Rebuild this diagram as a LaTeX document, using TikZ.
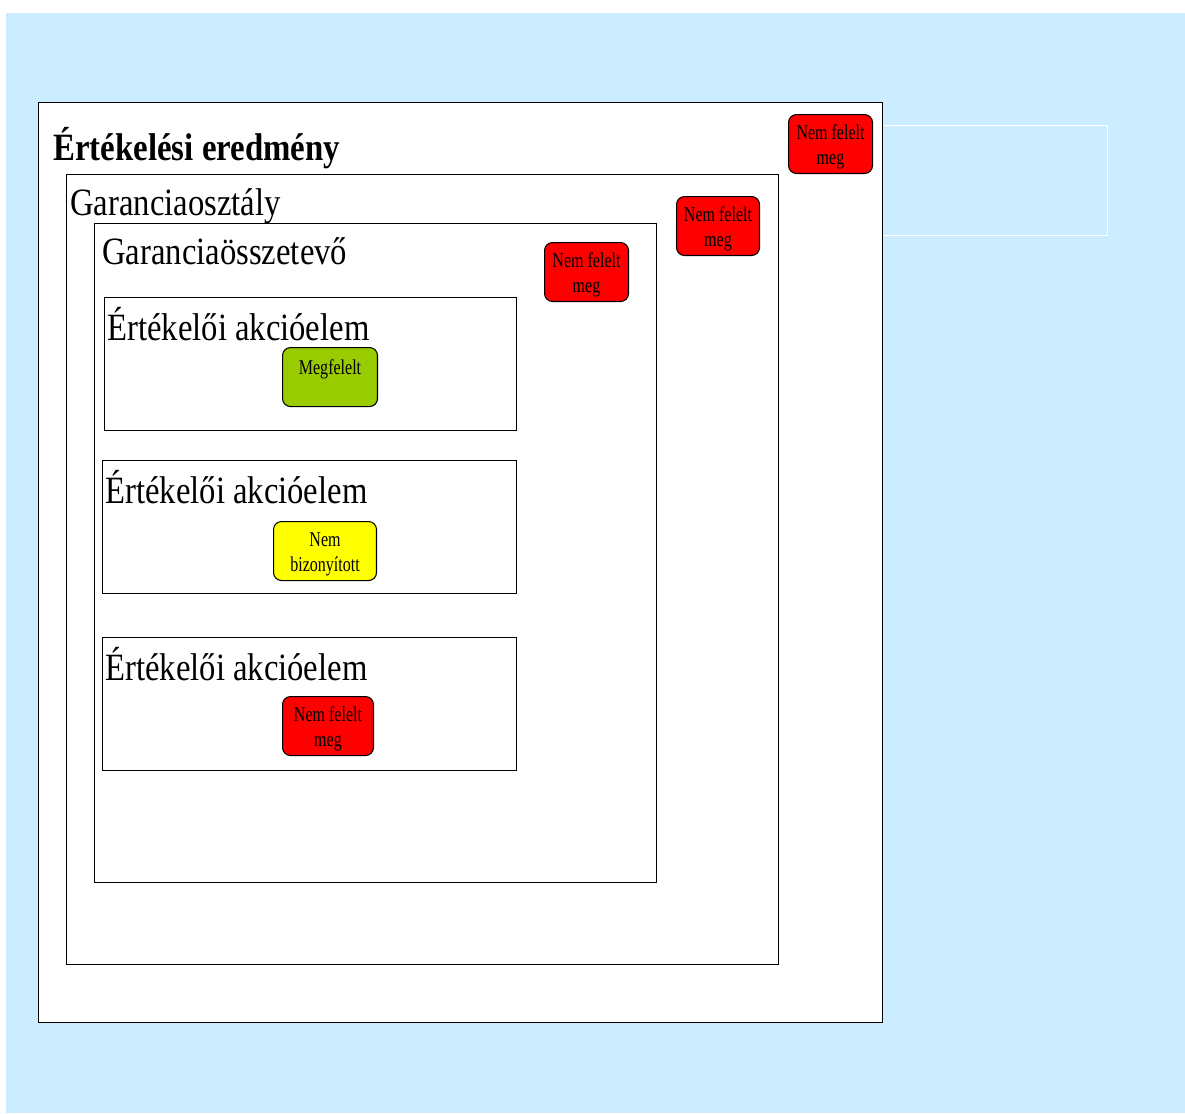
\documentclass[tikz,border=0pt]{standalone}
\usepackage{fontspec}
\setmainfont{Liberation Serif}
\newfontfamily\headfont[FakeStretch=0.845]{Liberation Serif}
\newfontfamily\titlefont[FakeStretch=0.85]{Liberation Serif}
\newfontfamily\statefont[FakeStretch=0.76]{Liberation Serif}
\usetikzlibrary{positioning}
\definecolor{Sky}{HTML}{CCECFF}
\definecolor{Pass}{HTML}{99CC00}
\definecolor{Fail}{HTML}{FF0000}
\definecolor{Open}{HTML}{FFFF00}
\newcommand{\topgap}{\rule{0pt}{11.7pt}}

\begin{document}
\begin{tikzpicture}[
  x=0.02cm,y=-0.02cm,
  panel/.style={draw=black,fill=white,line width=0.6pt,anchor=north west,
    inner sep=0pt},
  heading/.style={anchor=base west,inner sep=0pt,
    font=\headfont\fontsize{22}{26}\selectfont},
  state/.style={draw=black,rounded corners=1.6mm,line width=0.6pt,
    anchor=north west,minimum height=11.8mm,inner sep=0pt,align=center,
    font=\statefont\fontsize{12}{14.2}\selectfont},
  failed/.style={state,fill=Fail,minimum width=16.8mm}
]
\useasboundingbox (0,0) rectangle (1185,1113);
\fill[white] (0,0) rectangle (1185,1113);
\fill[Sky] (6,13) rectangle (1185,1113);

% Empty frame beside the result.
\node[draw=white,line width=0.6pt,anchor=north west,inner sep=0pt,
  minimum width=45mm,minimum height=22mm] (ghost) at (882,125) {};

% Nested panels.
\node[panel,minimum width=168.8mm,minimum height=184mm] (result) at (38,102) {};
\node[heading,font=\titlefont\bfseries\fontsize{22}{26}\selectfont]
  (resulttitle) at (53,160) {Értékelési eredmény};
\node[failed] (resultstate) at (788,114) {\topgap Nem felelt\\meg};

\node[panel,minimum width=142.4mm,minimum height=158mm] (class) at (66,174) {};
\node[heading] (classtitle) at (70,215) {Garanciaosztály};
\node[failed,minimum width=16.6mm] (classstate) at (676,196) {\topgap Nem felelt\\meg};

\node[panel,minimum width=112.4mm,minimum height=131.8mm] (comp) at (94,223) {};
\node[heading] (comptitle) at (102,264) {Garanciaösszetevő};
\node[failed] (compstate) at (544,242) {\topgap Nem felelt\\meg};

% Action elements.
\node[panel,minimum width=82.4mm,minimum height=26.6mm] (act1) at (104,297) {};
\node[heading] (act1title) at (107,340) {Értékelői akcióelem};
\node[state,fill=Pass,minimum width=19mm] (act1state) at (282,347) {\topgap Megfelelt\\~};

\node[panel,minimum width=82.8mm,minimum height=26.6mm] (act2) at (102,460) {};
\node[heading] (act2title) at (105,503) {Értékelői akcióelem};
\node[state,fill=Open,minimum width=20.6mm] (act2state) at (273,521) {\topgap Nem\\bizonyított};

\node[panel,minimum width=82.8mm,minimum height=26.6mm] (act3) at (102,637) {};
\node[heading] (act3title) at (105,680) {Értékelői akcióelem};
\node[failed,minimum width=18.2mm] (act3state) at (282,696) {\topgap Nem felelt\\meg};
\end{tikzpicture}
\end{document}
